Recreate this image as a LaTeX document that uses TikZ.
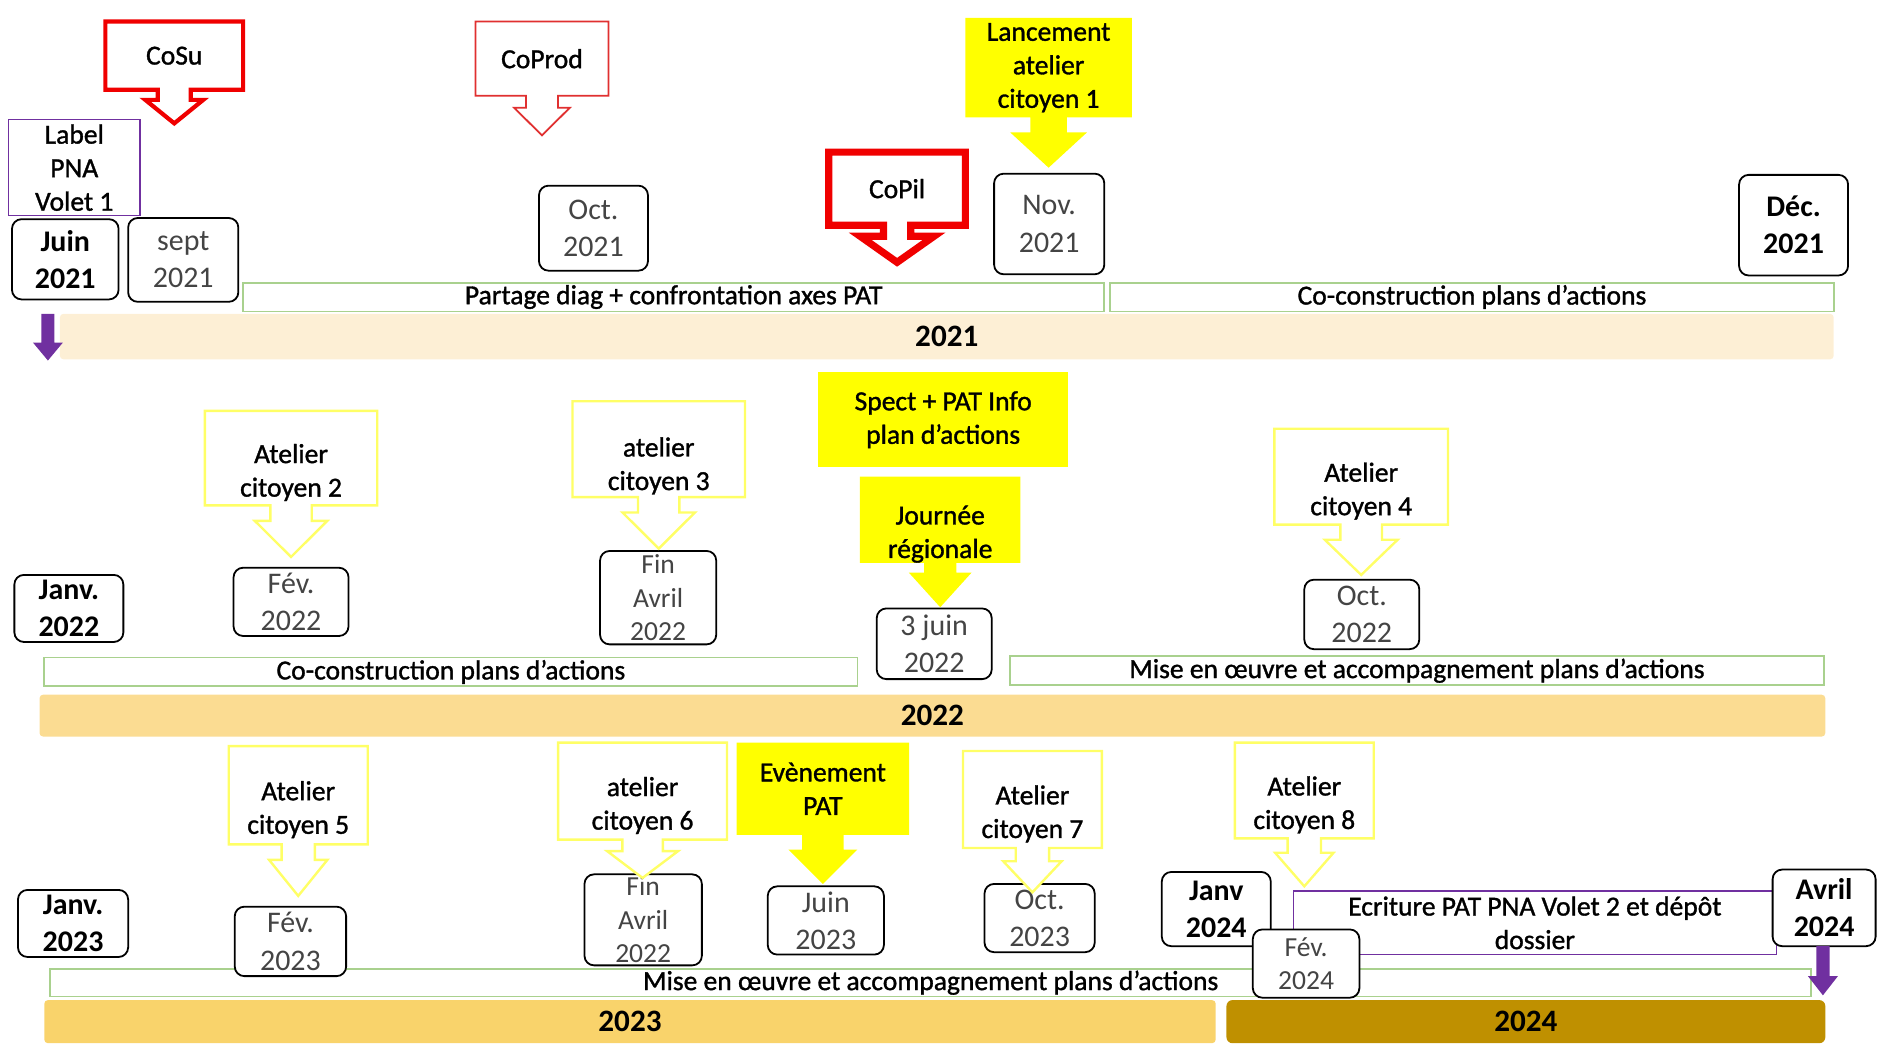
\documentclass[tikz,border=0pt]{standalone}
\usepackage{fontspec}
\setmainfont{Carlito}
\newfontfamily\semib{Carlito}[FakeBold=1.2]
\definecolor{redc}{HTML}{F00000}
\definecolor{redl}{HTML}{E03030}
\definecolor{yel}{HTML}{FFFF00}
\definecolor{yelo}{HTML}{FFFF66}
\definecolor{grn}{HTML}{A9D18E}
\definecolor{purp}{HTML}{7030A0}
\definecolor{bA}{HTML}{FDEFD5}
\definecolor{bB}{HTML}{FBDC92}
\definecolor{bC}{HTML}{F9D36B}
\definecolor{bD}{HTML}{BF9000}
\definecolor{dgray}{HTML}{444444}
\newcommand\fA{\semib\fontsize{23}{28}\selectfont}
\newcommand\fD{\fontsize{25}{31}\selectfont}
\newcommand\fY{\fontsize{26}{31}\selectfont\bfseries}
\newcommand\bx[7]{%
  \node[#6, minimum width={#4-#2}, minimum height={#5-#3}] (#1) at ({(#2+#4)/2},{(#3+#5)/2}) {#7};}
\def\shf{0.12}\def\hhf{0.21}\def\htf{0.3}
\newcommand\callout[9]{%
  \pgfmathsetmacro\cx{(#2+#4)/2}%
  \pgfmathsetmacro\sh{\shf*(#4-#2)}%
  \pgfmathsetmacro\hh{\hhf*(#4-#2)}%
  \pgfmathsetmacro\hy{#5+\htf*(#6-#5)}%
  \path[#7] (#2,#3) -- (#4,#3) -- (#4,#5) -- (\cx+\sh,#5) -- (\cx+\sh,\hy) -- (\cx+\hh,\hy) -- (\cx,#6) -- (\cx-\hh,\hy) -- (\cx-\sh,\hy) -- (\cx-\sh,#5) -- (#2,#5) -- cycle;
  \node[ctext] (#1) at (\cx,{(#3+#5)/2+#9}) {#8};}
\begin{document}
\begin{tikzpicture}[x=1pt,y=-1pt,
  every node/.style={inner sep=0pt, outer sep=0pt},
  ctext/.style={align=center, font=\fA, text=black},
  date/.style={draw=black, line width=1.5pt, rounded corners=8pt, fill=white, align=center, font=\fD, text=dgray},
  bdate/.style={date, font=\fD\bfseries, text=black},
  datec/.style={date, font=\fontsize{23}{28}\selectfont},
  labelbox/.style={draw=purp, line width=1.2pt, fill=white, align=center, font=\fA, text=black},
  purpbox/.style={draw=purp, line width=1.2pt, fill=white, align=center, font=\fA, text=black},
  gbar/.style={draw=grn, line width=1.5pt, fill=white, font=\fA, text=black},
  band21/.style={fill=bA, rounded corners=3pt, font=\fY},
  band22/.style={fill=bB, rounded corners=3pt, font=\fY},
  band23/.style={fill=bC, rounded corners=3pt, font=\fY},
  band24/.style={fill=bD, rounded corners=5pt, font=\fY},
  redthick/.style={draw=redc, line width=3.5pt, fill=white, line join=miter},
  redthin/.style={draw=redl, line width=1.5pt, fill=white, line join=miter},
  redheavy/.style={draw=redc, line width=6pt, fill=white, line join=miter},
  yelfill/.style={fill=yel},
  yelout/.style={draw=yelo, line width=2pt, fill=white, line join=miter},
  yelbox/.style={fill=yel, align=center, font=\fA, text=black}]
\useasboundingbox (0,0) rectangle (1568,871);

% ---------------- 2021 ----------------
\bx{bar1}{203}{236}{922}{260}{gbar}{Partage diag + confrontation axes PAT}
\bx{bar2}{927}{236}{1531}{260}{gbar}{Co-construction plans d’actions}
\bx{y21}{50}{262}{1531}{300}{band21}{2021}
\coordinate (pa1) at (40,262);
\fill[purp] (pa1) ++(-5.5,0) -- ++(11,0) -- ++(0,24) -- ++(7,0) -- ++(-12.5,15) -- ++(-12.5,-15) -- ++(7,0) -- cycle;

\bx{label}{7}{100}{117}{180}{labelbox}{Label\\PNA\\Volet 1}
\bx{juin21}{10}{183}{99}{250}{bdate}{Juin\\2021}
\bx{sept21}{107}{182}{199}{252}{date}{sept\\2021}
\bx{oct21}{450}{155}{541}{226}{date}{Oct.\\2021}
\bx{nov21}{830}{145}{922}{229}{date}{Nov.\\2021}
\bx{dec21}{1452}{146}{1543}{230}{bdate}{Déc.\\2021}

\callout{cosu}{88}{18}{203}{75}{103}{redthick}{CoSu}{0}
\callout{coprod}{397}{18}{508}{80}{113}{redthin}{CoProd}{0}
{\def\shf{0.1}\def\hhf{0.27}
\callout{copil}{692}{127}{806}{188}{219}{redheavy}{CoPil}{0}}
{\def\shf{0.11}\def\hhf{0.23}
\callout{lanc}{806}{15}{945}{98}{140}{yelfill}{Lancement\\atelier\\citoyen 1}{0}}

% ---------------- 2022 ----------------
\bx{bar3}{37}{549}{716}{573}{gbar}{Co-construction plans d’actions}
\bx{bar4}{843}{548}{1523}{572}{gbar}{Mise en œuvre et accompagnement plans d’actions}
\bx{y22}{33}{580}{1524}{615}{band22}{2022}

\bx{jan22}{12}{480}{103}{536}{bdate}{Janv.\\2022}
\bx{fev22}{195}{474}{291}{531}{date}{Fév.\\2022}
\bx{avr22}{501}{460}{598}{538}{datec}{Fin\\Avril\\2022}
\bx{jun22}{732}{508}{828}{567}{date}{3 juin\\2022}
\bx{oct22}{1089}{484}{1185}{542}{date}{Oct.\\2022}

\callout{at2}{171}{343}{315}{422}{465}{yelout}{Atelier\\citoyen 2}{12}
\callout{at3}{478}{335}{622}{415}{458}{yelout}{atelier\\citoyen 3}{14}
\bx{spect}{683}{311}{892}{390}{yelbox}{Spect + PAT Info\\plan d’actions}
{\def\shf{0.1}\def\hhf{0.195}\def\htf{0.22}
\callout{journee}{718}{398}{852}{470}{507}{yelfill}{Journée\\régionale}{12}}
\callout{at4}{1064}{358}{1209}{438}{480}{yelout}{Atelier\\citoyen 4}{12}

% ---------------- 2023 / 2024 ----------------
\bx{bar5}{42}{809}{1512}{832}{gbar}{Mise en œuvre et accompagnement plans d’actions}
\bx{y23}{37}{835}{1015}{871}{band23}{2023}
\bx{y24}{1024}{835}{1524}{871}{band24}{2024}

\bx{jan23}{15}{743}{107}{799}{bdate}{Janv.\\2023}
\bx{fev23}{196}{757}{289}{815}{date}{Fév.\\2023}
\bx{avr22b}{488}{730}{586}{806}{datec}{Fin\\Avril\\2022}
\bx{jun23}{641}{740}{738}{797}{date}{Juin\\2023}
\bx{oct23}{822}{738}{914}{795}{date}{Oct.\\2023}
\bx{jan24}{970}{728}{1061}{790}{bdate}{Janv\\2024}
\bx{ecr}{1080}{744}{1483}{797}{purpbox}{Ecriture PAT PNA Volet 2 et dépôt\\dossier}
\bx{fev24}{1046}{776}{1135}{833}{datec}{Fév.\\2024}
\bx{avr24}{1480}{726}{1566}{790}{bdate}{Avril\\2024}
\coordinate (pa2) at (1522,790);
\fill[purp] (pa2) ++(-5.5,0) -- ++(11,0) -- ++(0,25) -- ++(7,0) -- ++(-12.5,16) -- ++(-12.5,-16) -- ++(7,0) -- cycle;

\callout{at5}{191}{623}{307}{705}{748}{yelout}{Atelier\\citoyen 5}{12}
\callout{at6}{466}{620}{607}{701}{733}{yelout}{atelier\\citoyen 6}{12}
{\def\hhf{0.2}
\callout{evt}{615}{620}{759}{697}{738}{yelfill}{Evènement\\PAT}{0}}
\callout{at7}{804}{627}{920}{708}{745}{yelout}{Atelier\\citoyen 7}{12}
\callout{at8}{1031}{620}{1147}{700}{740}{yelout}{Atelier\\citoyen 8}{12}
\end{tikzpicture}
\end{document}
